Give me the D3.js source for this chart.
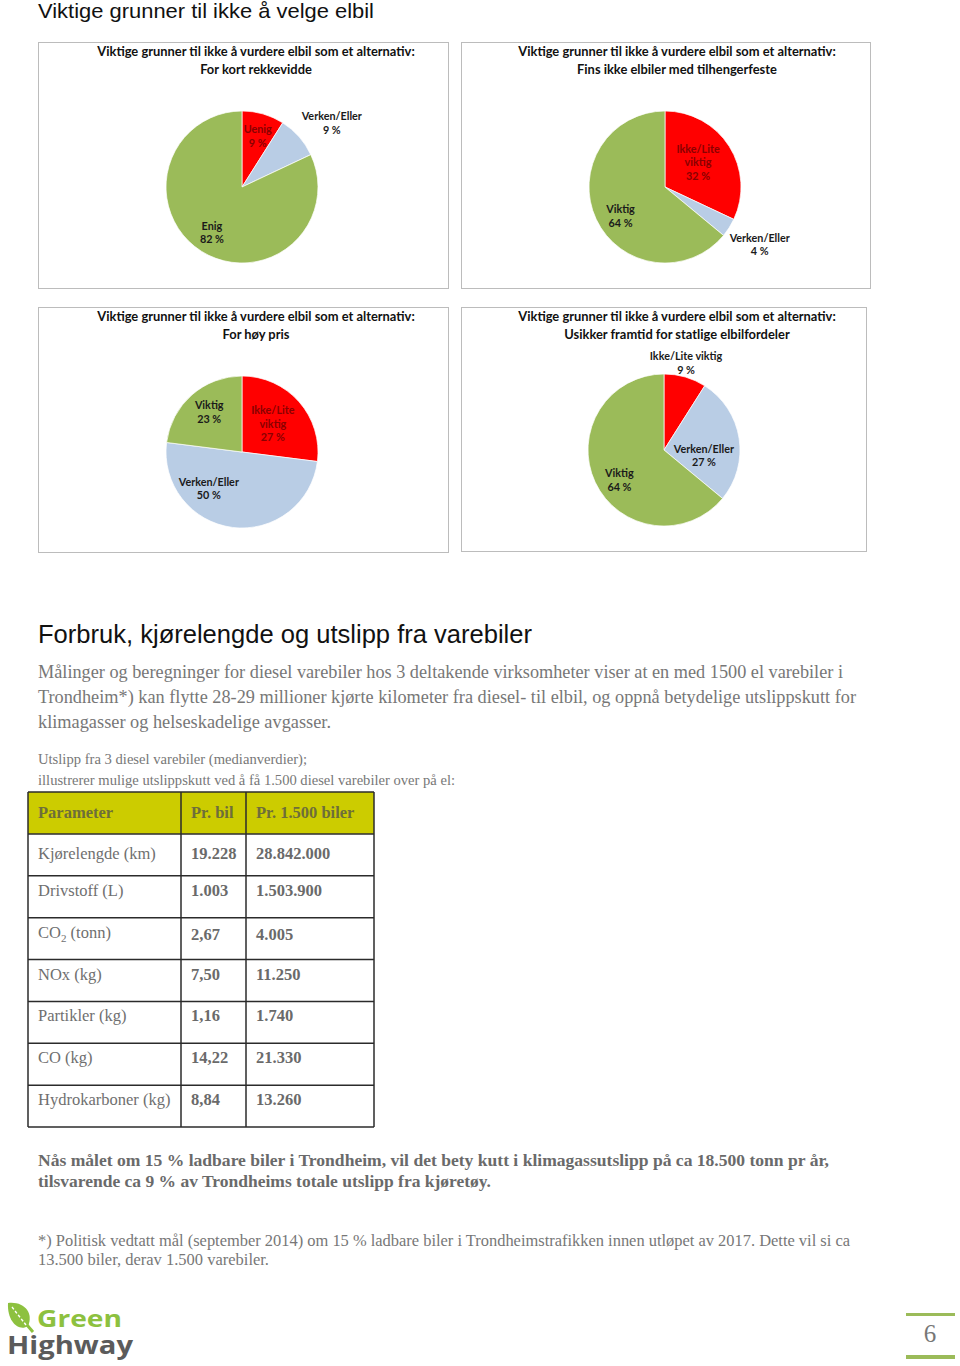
<!DOCTYPE html>
<html><head><meta charset="utf-8">
<script src="https://cdn.jsdelivr.net/npm/d3@7"></script>
<style>body{margin:0;background:#fff}svg{display:block}</style>
</head><body>
<svg id="page" width="960" height="1366"></svg>
<script>
// ---------- DATA ----------
const pageTitle = "Viktige grunner til ikke å velge elbil";
const pieTitleLead = "Viktige grunner til ikke å vurdere elbil som et alternativ:";
const pieSubtitles = ["For kort rekkevidde", "Fins ikke elbiler med tilhengerfeste", "For høy pris", "Usikker framtid for statlige elbilfordeler"];
const pieCategories = [
  ["Uenig", "Verken/Eller", "Enig"],
  ["Ikke/Lite viktig", "Verken/Eller", "Viktig"],
  ["Ikke/Lite viktig", "Verken/Eller", "Viktig"],
  ["Ikke/Lite viktig", "Verken/Eller", "Viktig"]
];
const pieValues = [
  [9, 9, 82],
  [32, 4, 64],
  [27, 50, 23],
  [9, 27, 64]
];
const sectionTitle = "Forbruk, kjørelengde og utslipp fra varebiler";
const introLines = [
  "Målinger og beregninger for diesel varebiler hos 3 deltakende virksomheter viser at en med 1500 el varebiler i",
  "Trondheim*) kan flytte 28-29 millioner kjørte kilometer fra diesel- til elbil, og oppnå betydelige utslippskutt for",
  "klimagasser og helseskadelige avgasser."
];
const tableCaption = ["Utslipp fra 3 diesel varebiler (medianverdier);", "illustrerer mulige utslippskutt ved å få 1.500 diesel varebiler over på el:"];
const tableHeaders = ["Parameter", "Pr. bil", "Pr. 1.500 biler"];
const parameters = ["Kjørelengde (km)", "Drivstoff (L)", "CO_2 (tonn)", "NOx (kg)", "Partikler (kg)", "CO (kg)", "Hydrokarboner (kg)"];
const perCar = ["19.228", "1.003", "2,67", "7,50", "1,16", "14,22", "8,84"];
const per1500 = ["28.842.000", "1.503.900", "4.005", "11.250", "1.740", "21.330", "13.260"];
const conclusionLines = [
  "Nås målet om 15  % ladbare biler i Trondheim, vil det bety kutt i klimagassutslipp på ca 18.500 tonn pr år,",
  "tilsvarende ca 9  % av Trondheims totale utslipp fra kjøretøy."
];
const footnoteLines = [
  "*) Politisk vedtatt mål (september 2014) om 15 % ladbare biler i Trondheimstrafikken innen utløpet av 2017. Dette vil si ca",
  "13.500 biler, derav 1.500 varebiler."
];
const logoWords = ["Green", "Highway"];
const pageNumber = "6";

// ---------- LAYOUT / STYLE ----------
const sliceColors = ["#ff0000", "#b9cde5", "#9bbb59"];
const insideRedText = "#8a0000";
const darkText = "#1a1a1a";
const panels = [
  {x: 38, y: 42, w: 410, h: 246, cx: 242, cy: 187, tx: 256},
  {x: 461, y: 42, w: 409, h: 246, cx: 665, cy: 187, tx: 677},
  {x: 38, y: 307, w: 410, h: 245, cx: 242, cy: 452, tx: 256},
  {x: 461, y: 307, w: 405, h: 244, cx: 664, cy: 450, tx: 677}
];
// label placement: [radius factor, angle nudge (deg)], and line breaking
const labelPlace = [
  [[0.70, 1], [1.45, 6], [0.72, 1]],
  [[0.54, -4], [1.46, -1], [0.70, -8]],
  [[0.55, -1], [0.65, 35], [0.68, 2]],
  [[1.18, -2], [0.53, 17], [0.71, -9]]
];
const breakName = [[false,false,false],[true,false,false],[true,false,false],[false,false,false]];
const R = 76;
const labelFont = "Lato, 'Liberation Sans', sans-serif";
const serif = "'Liberation Serif', 'DejaVu Serif', serif";
const sans = "'Liberation Sans', Arial, sans-serif";

const svg = d3.select("#page");

// page title
svg.append("text").attr("x", 38).attr("y", 18)
  .attr("font-family", sans).attr("font-size", 21).attr("fill", "#111")
  .attr("textLength", 336).attr("lengthAdjust", "spacingAndGlyphs")
  .text(pageTitle);

// ---------- PIES ----------
const pie = d3.pie().sort(null).value(d => d);
const arc = d3.arc().innerRadius(0).outerRadius(R);

panels.forEach((p, i) => {
  const g = svg.append("g");
  g.append("rect").attr("x", p.x + 0.5).attr("y", p.y + 0.5).attr("width", p.w).attr("height", p.h)
    .attr("fill", "#fff").attr("stroke", "#bcbcbc").attr("stroke-width", 1);
  const tl = g.append("text").attr("text-anchor", "middle")
    .attr("font-family", labelFont).attr("font-weight", "bold").attr("font-size", 12.9).attr("fill", "#111");
  tl.append("tspan").attr("x", p.tx).attr("y", p.y + 14).text(pieTitleLead);
  tl.append("tspan").attr("x", p.tx).attr("y", p.y + 32).text(pieSubtitles[i]);

  const arcs = pie(pieValues[i]);
  const pg = g.append("g").attr("transform", `translate(${p.cx},${p.cy})`);
  pg.selectAll("path").data(arcs).join("path")
    .attr("d", arc).attr("fill", (d, j) => sliceColors[j])
    .attr("stroke", "#fff").attr("stroke-width", 0.7);

  arcs.forEach((d, j) => {
    const [f, nudge] = labelPlace[i][j];
    const mid = (d.startAngle + d.endAngle) / 2 + nudge * Math.PI / 180;
    const lx = Math.sin(mid) * R * f, ly = -Math.cos(mid) * R * f;
    const name = pieCategories[i][j];
    let lines = breakName[i][j] ? name.split(" ") : [name];
    lines = lines.concat([d.data + " %"]);
    const lh = 13.5;
    const col = (j === 0 && f < 1) ? insideRedText : darkText;
    const t = pg.append("text").attr("text-anchor", "middle")
      .attr("font-family", labelFont).attr("font-weight", "bold").attr("font-size", 10.8)
      .attr("fill", col);
    lines.forEach((ln, k) => {
      t.append("tspan").attr("x", lx).attr("y", ly + (k - (lines.length - 1) / 2) * lh + 3.8).text(ln);
    });
  });
});

// ---------- SECTION ----------
svg.append("text").attr("x", 38).attr("y", 643)
  .attr("font-family", sans).attr("font-size", 26).attr("fill", "#111")
  .attr("textLength", 494).attr("lengthAdjust", "spacingAndGlyphs").text(sectionTitle);

const introWidths = [805, 818, 293];
introLines.forEach((l, k) => {
  svg.append("text").attr("x", 38).attr("y", 678 + k * 25)
    .attr("font-family", serif).attr("font-size", 19).attr("fill", "#777")
    .attr("textLength", introWidths[k]).attr("lengthAdjust", "spacingAndGlyphs").text(l);
});
const capWidths = [269, 417];
tableCaption.forEach((l, k) => {
  svg.append("text").attr("x", 38).attr("y", 764 + k * 21)
    .attr("font-family", serif).attr("font-size", 15).attr("fill", "#777")
    .attr("textLength", capWidths[k]).attr("lengthAdjust", "spacingAndGlyphs").text(l);
});

// ---------- TABLE ----------
const colEdges = [28, 181, 246, 374];
const rowScale = d3.scaleBand().domain(d3.range(parameters.length + 1)).range([792, 1127]);
const tg = svg.append("g");
tg.append("rect").attr("x", colEdges[0]).attr("y", rowScale(0)).attr("width", colEdges[3] - colEdges[0])
  .attr("height", rowScale.bandwidth()).attr("fill", "#cccc00");
tableHeaders.forEach((h, c) => {
  tg.append("text").attr("x", colEdges[c] + 10).attr("y", rowScale(0) + 26)
    .attr("font-family", serif).attr("font-weight", "bold").attr("font-size", 16.5).attr("fill", "#6e6e3a").text(h);
});
parameters.forEach((p, r) => {
  const y = rowScale(r + 1) + (r === 0 ? 25 : 20);
  const t = tg.append("text").attr("x", colEdges[0] + 10).attr("y", y)
    .attr("font-family", serif).attr("font-size", 16.5).attr("fill", "#6f6f6f");
  if (p.includes("_2")) {
    const [a, b] = p.split("_2");
    t.append("tspan").text(a);
    t.append("tspan").attr("font-size", 11).attr("dy", 4).text("2");
    t.append("tspan").attr("dy", -4).text(b);
  } else t.text(p);
  [perCar[r], per1500[r]].forEach((v, c) => {
    tg.append("text").attr("x", colEdges[c + 1] + 10).attr("y", y + (r === 2 ? 2 : 0))
      .attr("font-family", serif).attr("font-weight", "bold").attr("font-size", 16.5).attr("fill", "#6a6a6a").text(v);
  });
});
const lineCol = "#2b2b2b";
d3.range(parameters.length + 2).forEach(r => {
  const y = r <= parameters.length ? rowScale(r) : rowScale.range()[1];
  tg.append("line").attr("x1", colEdges[0]).attr("x2", colEdges[3]).attr("y1", y).attr("y2", y)
    .attr("stroke", lineCol).attr("stroke-width", 1.5);
});
colEdges.forEach(x => {
  tg.append("line").attr("x1", x).attr("x2", x).attr("y1", 792).attr("y2", 1127)
    .attr("stroke", lineCol).attr("stroke-width", 1.5);
});

// ---------- CONCLUSION + FOOTNOTE ----------
const concWidths = [791, 453];
conclusionLines.forEach((l, k) => {
  svg.append("text").attr("x", 38).attr("y", 1166 + k * 21)
    .attr("font-family", serif).attr("font-weight", "bold").attr("font-size", 17).attr("fill", "#6a6a6a")
    .attr("textLength", concWidths[k]).attr("lengthAdjust", "spacingAndGlyphs").text(l);
});
const footWidths = [812, 231];
footnoteLines.forEach((l, k) => {
  svg.append("text").attr("x", 38).attr("y", 1246 + k * 19)
    .attr("font-family", serif).attr("font-size", 16).attr("fill", "#777")
    .attr("textLength", footWidths[k]).attr("lengthAdjust", "spacingAndGlyphs").text(l);
});

// ---------- LOGO ----------
const logo = svg.append("g");
logo.append("path")
  .attr("d", "M8,1303 C24,1301 34,1313 28,1326 C19,1332 7,1322 8,1303 Z")
  .attr("fill", "#8dc13f");
logo.append("path").attr("d", "M27,1325 L33,1332").attr("stroke", "#8dc13f").attr("stroke-width", 3);
logo.append("path").attr("d", "M12,1307 L26,1325").attr("stroke", "#fff").attr("stroke-width", 1.4)
  .attr("stroke-dasharray", "3,2");
const lt = logo.append("text")
  .attr("font-family", "'Open Sans', sans-serif").attr("font-weight", "bold");
lt.append("tspan").attr("x", 37).attr("y", 1327).attr("font-size", 24).attr("fill", "#8dc13f")
  .attr("textLength", 85).attr("lengthAdjust", "spacingAndGlyphs").text(logoWords[0]);
lt.append("tspan").attr("x", 7).attr("y", 1354).attr("font-size", 25).attr("fill", "#5b5b5b")
  .attr("textLength", 126).attr("lengthAdjust", "spacingAndGlyphs").text(logoWords[1]);

// page number
svg.append("rect").attr("x", 906).attr("y", 1313).attr("width", 49).attr("height", 3).attr("fill", "#9bbb59");
svg.append("rect").attr("x", 906).attr("y", 1355).attr("width", 49).attr("height", 4).attr("fill", "#9bbb59");
svg.append("text").attr("x", 930).attr("y", 1342).attr("text-anchor", "middle")
  .attr("font-family", serif).attr("font-size", 25).attr("fill", "#777").text(pageNumber);
</script>
</body></html>
